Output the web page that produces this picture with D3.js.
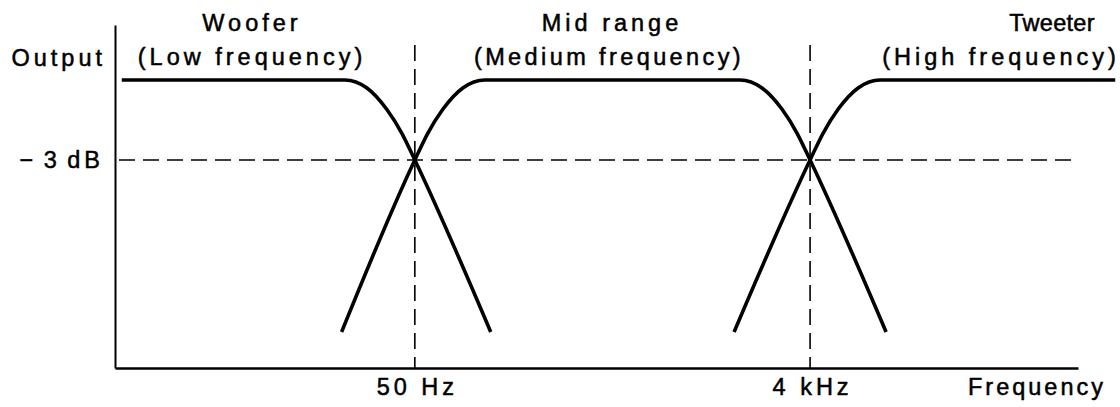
<!DOCTYPE html>
<html>
<head>
<meta charset="utf-8">
<script src="https://cdn.jsdelivr.net/npm/d3@7"></script>
<style>
  body { margin: 0; background: #fff; }
  svg { display: block; }
  text { font-family: "Liberation Sans", Arial, sans-serif; font-size: 23.5px; letter-spacing: 4px;
         fill: #000; stroke: #000; stroke-width: 0.5px; }
</style>
</head>
<body>
<svg width="1120" height="407"></svg>
<script>
// speaker bands
const bands = ['Woofer', 'Mid range', 'Tweeter'];
const bandSubs = ['(Low frequency)', '(Medium frequency)', '(High frequency)'];

// crossover frequencies (Hz) and level mark (dB)
const crossovers = [50, 4000];
const crossLabels = ['50 Hz', '4 kHz'];
const levelTicks = [-3];
const levelLabels = ['\u2212 3 dB'];

// response curves, frequency in Hz / output in dB
const wooferHz = [1.94, 23.0, 29.4, 36.6, 43.3, 50, 116];
const wooferDb = [0, 0, -0.3, -1.1, -2.0, -3, -9.45];
const midHz = [22.2, 50, 57.7, 68.2, 85.1, 108.7, 1840, 2348, 2932, 3464, 4000, 9292];
const midDb = [-9.45, -3, -2.0, -1.1, -0.3, 0, 0, -0.3, -1.1, -2.0, -3, -9.45];
const tweeterHz = [1722, 4000, 4619, 5456, 6812, 8696, 117800];
const tweeterDb = [-9.45, -3, -2.0, -1.1, -0.3, 0, 0];

// frame
const plotLeft = 115, plotRight = 1078, plotTop = 25, plotBottom = 368;
const dashTop = 45;

const svg = d3.select('svg');

const xScale = d3.scaleLog()
  .domain([1.8, 78000])
  .range([plotLeft, plotRight]);

const yScale = d3.scaleLinear()
  .domain([-10.8, 2.06])
  .range([plotBottom, plotTop]);

// dashed guides
svg.selectAll('.vguide')
  .data(crossovers)
  .enter()
  .append('line')
  .attr('x1', d => xScale(d))
  .attr('x2', d => xScale(d))
  .attr('y1', dashTop)
  .attr('y2', plotBottom)
  .attr('stroke', '#000')
  .attr('stroke-width', 1.6)
  .attr('stroke-dasharray', '16,8');

svg.selectAll('.hguide')
  .data(levelTicks)
  .enter()
  .append('line')
  .attr('x1', plotLeft + 4)
  .attr('x2', plotRight)
  .attr('y1', d => yScale(d))
  .attr('y2', d => yScale(d))
  .attr('stroke', '#000')
  .attr('stroke-width', 1.6)
  .attr('stroke-dasharray', '16,8');

// axes
const xAxis = svg.append('g')
  .attr('transform', `translate(0, ${plotBottom})`)
  .call(d3.axisBottom(xScale)
    .tickValues(crossovers)
    .tickFormat((d, i) => crossLabels[i])
    .tickSize(0)
    .tickPadding(10));

const yAxis = svg.append('g')
  .attr('transform', `translate(${plotLeft}, 0)`)
  .call(d3.axisLeft(yScale)
    .tickValues(levelTicks)
    .tickFormat((d, i) => levelLabels[i])
    .tickSize(0)
    .tickPadding(11));

xAxis.select('.domain').attr('stroke-width', 2.6);
yAxis.select('.domain').attr('stroke-width', 2);
xAxis.attr('font-family', null).attr('font-size', null);
yAxis.attr('font-family', null).attr('font-size', null);
xAxis.selectAll('.tick text').attr('dx', '2px');
// the minus sits a little closer to the 3 than a full space
yAxis.selectAll('.tick text').style('word-spacing', '-4px');

svg.append('text')
  .attr('x', plotLeft - 9)
  .attr('y', 66)
  .attr('text-anchor', 'end')
  .text('Output');

svg.append('text')
  .attr('x', 1106)
  .attr('y', 395)
  .attr('text-anchor', 'end')
  .style('letter-spacing', '3px')
  .text('Frequency');

// curves
const line = d3.line()
  .x(d => xScale(d[0]))
  .y(d => yScale(d[1]))
  .curve(d3.curveMonotoneX);

const curves = [
  d3.zip(wooferHz, wooferDb),
  d3.zip(midHz, midDb),
  d3.zip(tweeterHz, tweeterDb)
];

svg.selectAll('.curve')
  .data(curves)
  .enter()
  .append('path')
  .attr('d', line)
  .attr('fill', 'none')
  .attr('stroke', '#000')
  .attr('stroke-width', 3.6);

// band labels
const titleX = [252, 612, 1052];
const titleSpacing = [4, 4, 0.3];
const subX = [252, 609, 1001];
const subSpacing = [4, 3.4, 4];

svg.selectAll('.band')
  .data(bands)
  .enter()
  .append('text')
  .attr('x', (d, i) => titleX[i])
  .attr('y', 31)
  .attr('text-anchor', 'middle')
  .style('letter-spacing', (d, i) => titleSpacing[i] + 'px')
  .text(d => d);

svg.selectAll('.sub')
  .data(bandSubs)
  .enter()
  .append('text')
  .attr('x', (d, i) => subX[i])
  .attr('y', 65)
  .attr('text-anchor', 'middle')
  .style('letter-spacing', (d, i) => subSpacing[i] + 'px')
  .text(d => d);
</script>
</body>
</html>
